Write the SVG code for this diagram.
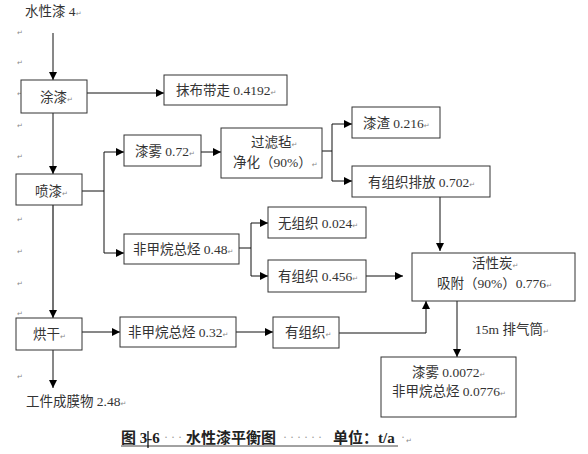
<svg xmlns="http://www.w3.org/2000/svg" width="588" height="454" viewBox="0 0 588 454">
<defs>
<marker id="ah" markerUnits="userSpaceOnUse" markerWidth="8" markerHeight="8" refX="8" refY="4" orient="auto">
<path d="M0,0 L8,4 L0,8 z" fill="#000"/>
</marker>
<style>
.b{fill:#fff;stroke:#333;stroke-width:1}
.t{font-family:"Liberation Serif","Noto Sans CJK SC",serif;font-size:13.5px;fill:#333}
.pm{font-family:"DejaVu Sans",sans-serif;font-size:7px;fill:#888}
.c{fill:none;stroke:#111;stroke-width:1}
.a{marker-end:url(#ah)}
.cap{font-family:"Liberation Serif","Noto Sans CJK SC",serif;font-size:15px;font-weight:bold;fill:#222}
.dot{font-family:"Liberation Serif",serif;font-size:12px;fill:#999}
</style>
</defs>
<rect width="588" height="454" fill="#fff"/>

<g id="marks">
<text class="pm" x="17" y="35">↵</text>
<text class="pm" x="17" y="65">↵</text>
<text class="pm" x="17" y="96">↵</text>
<text class="pm" x="17" y="128">↵</text>
<text class="pm" x="17" y="159">↵</text>
<text class="pm" x="17" y="222">↵</text>
<text class="pm" x="17" y="254">↵</text>
<text class="pm" x="17" y="286">↵</text>
<text class="pm" x="17" y="316">↵</text>
<text class="pm" x="17" y="379">↵</text>
</g>

<g id="connectors">
<path class="c a" d="M53,33 V80"/>
<path class="c a" d="M87,93 H164"/>
<path class="c a" d="M53,113 V174"/>
<path class="c" d="M82,191 H104 M104,152 V253"/>
<path class="c a" d="M104,152 H124"/>
<path class="c a" d="M104,253 H124"/>
<path class="c a" d="M201,152 H221"/>
<path class="c" d="M322,151 H332 M332,124 V181"/>
<path class="c a" d="M332,124 H352"/>
<path class="c a" d="M332,181 H352"/>
<path class="c a" d="M440,197 V251"/>
<path class="c" d="M239,248 H251 M251,223 V276"/>
<path class="c a" d="M251,223 H268"/>
<path class="c a" d="M251,276 H268"/>
<path class="c a" d="M366,276 H403"/>
<path class="c a" d="M53,205 V318" style="stroke-width:1.5;stroke:#444"/>
<path class="c a" d="M82,332 H120"/>
<path class="c a" d="M236,332 H273"/>
<path class="c a" d="M339,333 H426 V301"/>
<path class="c a" d="M457,301 V357"/>
<path class="c a" d="M53,350 V388"/>
</g>

<g id="n-input"><text class="t" x="25" y="16">水性漆 4<tspan class="pm">↵</tspan></text></g>

<g id="n-tuqi"><rect class="b" x="21" y="80" width="66" height="33"/><text class="t" x="40" y="102">涂漆<tspan class="pm">↵</tspan></text></g>

<g id="n-mobu"><rect class="b" x="164" y="75" width="123" height="30"/><text class="t" x="176" y="95">抹布带走 0.4192<tspan class="pm">↵</tspan></text></g>

<g id="n-penqi"><rect class="b" x="16" y="174" width="66" height="31"/><text class="t" x="35" y="196">喷漆<tspan class="pm">↵</tspan></text></g>

<g id="n-qiwu"><rect class="b" x="124" y="135" width="77" height="31"/><text class="t" x="135" y="156">漆雾 0.72<tspan class="pm">↵</tspan></text></g>

<g id="n-guolv"><rect class="b" x="221" y="128" width="101" height="50"/><text class="t" x="251" y="147">过滤毡<tspan class="pm">↵</tspan></text><text class="t" x="233" y="167">净化（90%）<tspan class="pm">↵</tspan></text></g>

<g id="n-qizha"><rect class="b" x="352" y="107" width="88" height="31"/><text class="t" x="363" y="128">漆渣 0.216<tspan class="pm">↵</tspan></text></g>

<g id="n-youzuzhipaifang"><rect class="b" x="352" y="166" width="138" height="31"/><text class="t" x="368" y="187">有组织排放 0.702<tspan class="pm">↵</tspan></text></g>

<g id="n-nmhc48"><rect class="b" x="124" y="234" width="115" height="30"/><text class="t" x="133" y="254">非甲烷总烃 0.48<tspan class="pm">↵</tspan></text></g>

<g id="n-wuzuzhi"><rect class="b" x="268" y="207" width="98" height="31"/><text class="t" x="278" y="228">无组织 0.024<tspan class="pm">↵</tspan></text></g>

<g id="n-youzuzhi456"><rect class="b" x="268" y="260" width="98" height="32"/><text class="t" x="278" y="281">有组织 0.456<tspan class="pm">↵</tspan></text></g>

<g id="n-huoxingtan"><rect class="b" x="412" y="253" width="163" height="48"/><text class="t" x="472" y="268">活性炭<tspan class="pm">↵</tspan></text><text class="t" x="437" y="288">吸附（90%）0.776<tspan class="pm">↵</tspan></text></g>

<g id="n-honggan"><rect class="b" x="16" y="318" width="66" height="32"/><text class="t" x="33" y="339">烘干<tspan class="pm">↵</tspan></text></g>

<g id="n-nmhc32"><rect class="b" x="120" y="317" width="116" height="30"/><text class="t" x="128" y="337">非甲烷总烃 0.32<tspan class="pm">↵</tspan></text></g>

<g id="n-youzuzhi"><rect class="b" x="273" y="317" width="66" height="31"/><text class="t" x="285" y="337">有组织<tspan class="pm">↵</tspan></text></g>

<g id="n-pipe-label"><text class="t" x="475" y="334">15m 排气筒<tspan class="pm">↵</tspan></text></g>

<g id="n-emission"><rect class="b" x="381" y="357" width="135" height="60"/><text class="t" x="412" y="377">漆雾 0.0072<tspan class="pm">↵</tspan></text><text class="t" x="392" y="396">非甲烷总烃 0.0776<tspan class="pm">↵</tspan></text></g>

<g id="n-film"><text class="t" x="26" y="406">工件成膜物 2.48<tspan class="pm">↵</tspan></text></g>

<g id="caption">
<text class="cap" x="121" y="443">图 3-6</text>
<text class="dot" x="164" y="441">· · ·</text>
<text class="cap" x="186" y="443">水性漆平衡图</text>
<text class="dot" x="283" y="441">· · · · · ·</text>
<text class="cap" x="333" y="443">单位：t/a</text>
<text class="dot" x="401" y="441">·</text>
<text class="pm" x="406" y="443">↵</text>
<line x1="121" y1="446" x2="398" y2="446" stroke="#444" stroke-width="1"/>
<line x1="148" y1="431" x2="148" y2="448" stroke="#000" stroke-width="1.2"/>
</g>
</svg>
